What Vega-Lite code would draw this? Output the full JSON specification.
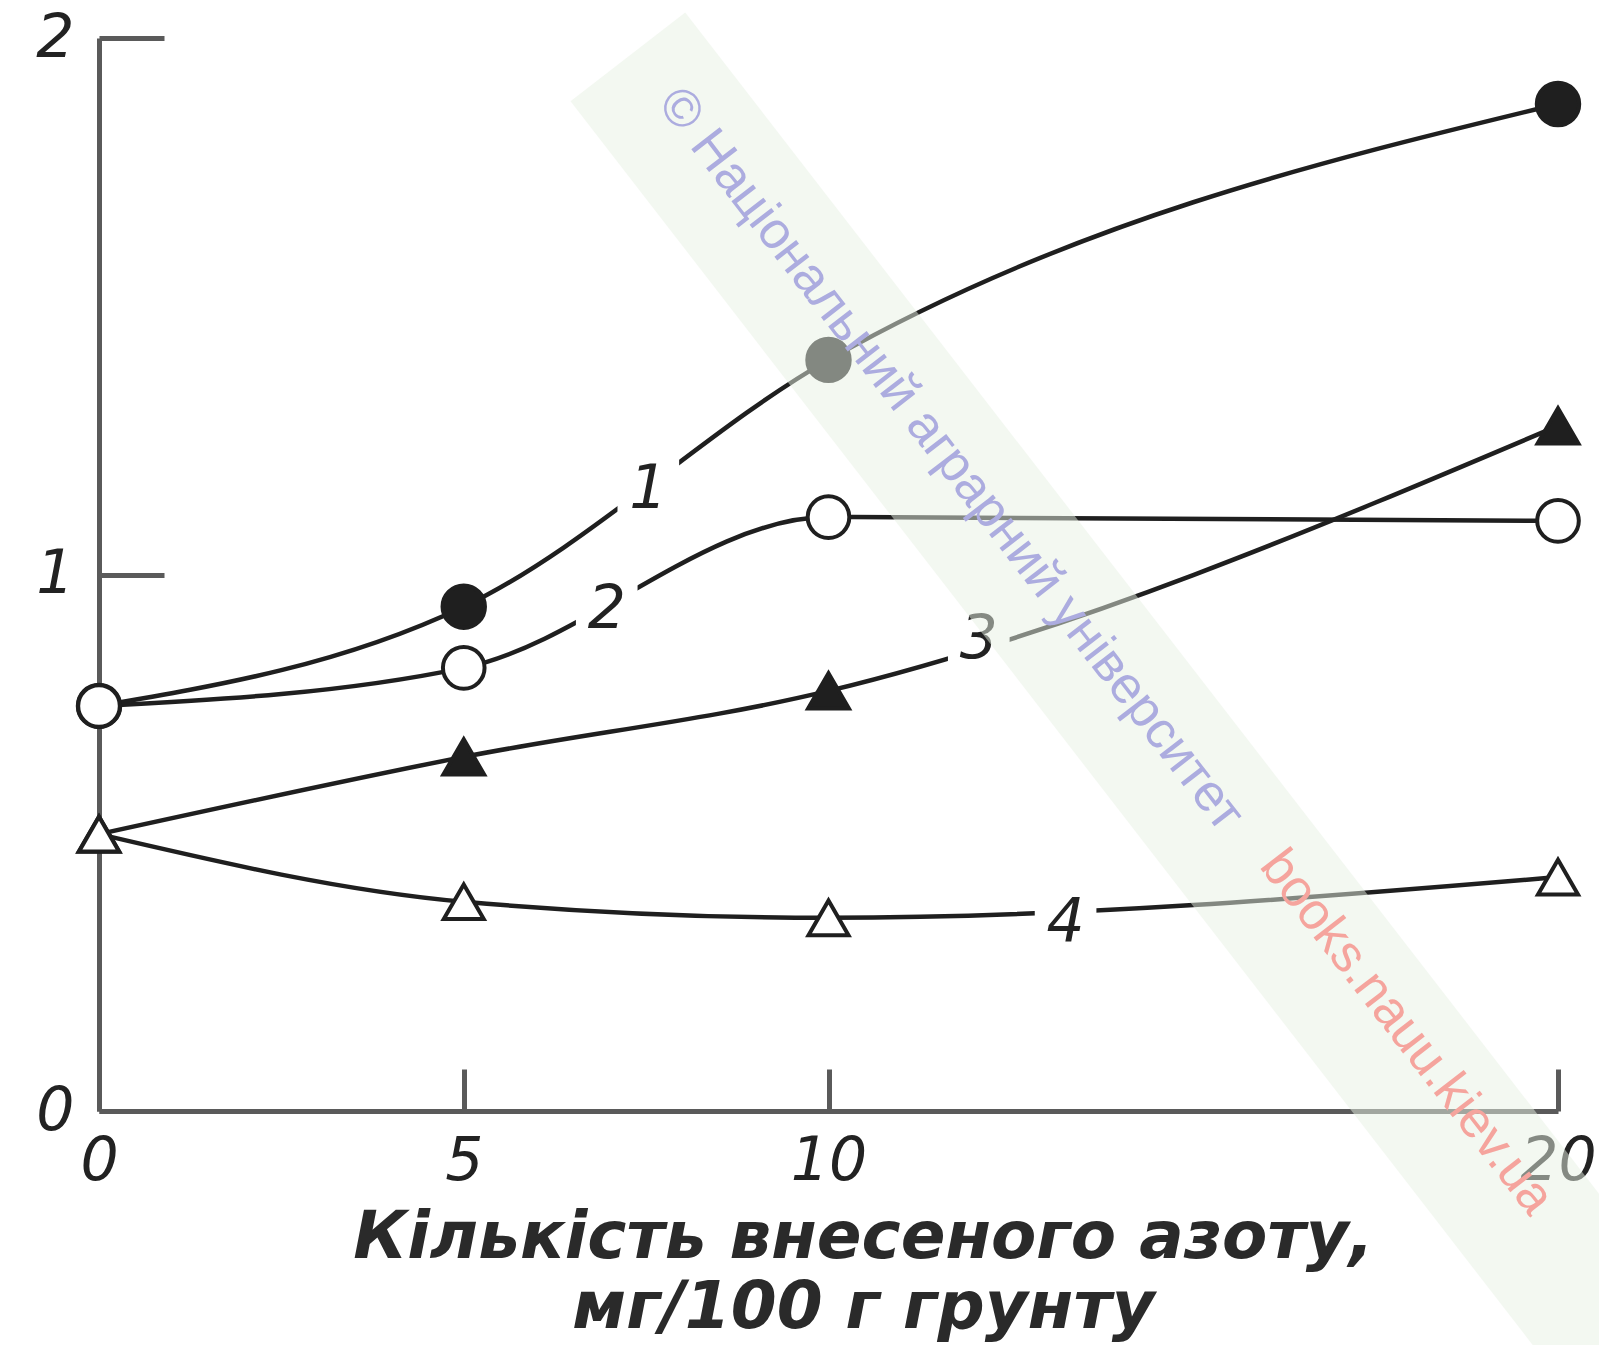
{
  "$schema": "https://vega.github.io/schema/vega-lite/v6.json",
  "width": 1459,
  "height": 1073,
  "autosize": {"type": "none"},
  "padding": {"left": 99, "top": 38, "right": 41, "bottom": 234},
  "background": "white",
  "config": {"view": {"stroke": null}, "axis": {"grid": false}},
  "datasets": {
    "curves": [
      {"series": "1", "x": 0, "y": 0.755},
      {"series": "1", "x": 5, "y": 0.94},
      {"series": "1", "x": 10, "y": 1.40},
      {"series": "1", "x": 20, "y": 1.877},
      {"series": "2", "x": 0, "y": 0.755},
      {"series": "2", "x": 5, "y": 0.826},
      {"series": "2", "x": 10, "y": 1.107},
      {"series": "2", "x": 20, "y": 1.10},
      {"series": "3", "x": 0, "y": 0.516},
      {"series": "3", "x": 5, "y": 0.66},
      {"series": "3", "x": 10, "y": 0.783},
      {"series": "3", "x": 20, "y": 1.277},
      {"series": "4", "x": 0, "y": 0.516},
      {"series": "4", "x": 5, "y": 0.39},
      {"series": "4", "x": 10, "y": 0.36},
      {"series": "4", "x": 20, "y": 0.436}
    ],
    "labels": [
      {"label": "1", "x": 7.53, "y": 1.158},
      {"label": "2", "x": 6.96, "y": 0.934},
      {"label": "3", "x": 12.06, "y": 0.878},
      {"label": "4", "x": 13.25, "y": 0.35}
    ],
    "band": [
      {"x": 7.25, "y": 1.965},
      {"x": 21.5, "y": -0.54}
    ],
    "watermark": [
      {"kind": "copyright", "text": "© Національний аграрний університет", "x": 11.68, "y": 1.215},
      {"kind": "site", "text": "books.nauu.kiev.ua", "x": 17.93, "y": 0.147}
    ]
  },
  "encoding": {
    "x": {
      "field": "x",
      "type": "quantitative",
      "scale": {"domain": [0, 20], "nice": false, "zero": false},
      "axis": {
        "values": [0, 5, 10, 20],
        "labelExpr": "datum.value + ''",
        "domainColor": "#5a5a5a",
        "domainWidth": 5,
        "tickColor": "#5a5a5a",
        "tickWidth": 5,
        "tickSize": -42,
        "labelPadding": 63,
        "labelFont": "DejaVu Sans",
        "labelFontStyle": "italic",
        "labelFontSize": 60,
        "labelColor": "#222222",
        "labelFlush": false,
        "labelOverlap": false,
        "title": ["Кількість внесеного азоту,", "мг/100 г грунту"],
        "titleFont": "DejaVu Sans",
        "titleFontStyle": "italic",
        "titleFontWeight": "bold",
        "titleFontSize": 66,
        "titleColor": "#2a2a2a",
        "titleAlign": "center",
        "titleBaseline": "alphabetic",
        "titleX": 764,
        "titleY": 146,
        "titleLineHeight": 70
      }
    },
    "y": {
      "field": "y",
      "type": "quantitative",
      "scale": {"domain": [0, 2], "nice": false, "zero": false},
      "axis": {
        "values": [0, 1, 2],
        "labelExpr": "datum.value + ''",
        "domainColor": "#5a5a5a",
        "domainWidth": 5,
        "tickColor": "#5a5a5a",
        "tickWidth": 5,
        "tickSize": -65,
        "labelPadding": 90,
        "labelFont": "DejaVu Sans",
        "labelFontStyle": "italic",
        "labelFontSize": 60,
        "labelColor": "#222222",
        "labelFlush": false,
        "labelOverlap": false,
        "labelAlign": "right",
        "labelBaseline": "middle",
        "title": null
      }
    }
  },
  "layer": [
    {
      "data": {"name": "curves"},
      "mark": {"type": "line", "interpolate": "monotone", "color": "#1f1f1f", "strokeWidth": 4.5},
      "encoding": {"detail": {"field": "series"}}
    },
    {
      "data": {"name": "labels"},
      "mark": {"type": "square", "size": 3800, "color": "white", "filled": true, "opacity": 1}
    },
    {
      "data": {"name": "labels"},
      "mark": {"type": "text", "font": "DejaVu Sans", "fontStyle": "italic", "fontSize": 60, "color": "#222222", "align": "center", "baseline": "middle"},
      "encoding": {"text": {"field": "label"}}
    },
    {
      "data": {"name": "curves"},
      "mark": {"type": "point", "filled": true, "stroke": "#1f1f1f", "strokeWidth": 4, "opacity": 1},
      "encoding": {
        "shape": {"field": "series", "scale": {"domain": ["1", "2", "3", "4"], "range": ["circle", "circle", "triangle-up", "triangle-up"]}, "legend": null},
        "fill": {"field": "series", "scale": {"domain": ["1", "2", "3", "4"], "range": ["#1f1f1f", "#ffffff", "#1f1f1f", "#ffffff"]}, "legend": null},
        "size": {"field": "series", "scale": {"domain": ["1", "2", "3", "4"], "range": [1800, 1600, 2100, 2100]}, "legend": null}
      }
    },
    {
      "data": {"name": "band"},
      "mark": {"type": "line", "color": "#e8f2e4", "strokeWidth": 145, "strokeCap": "butt", "opacity": 0.5}
    },
    {
      "data": {"name": "watermark"},
      "mark": {"type": "text", "font": "Liberation Sans", "fontSize": 52, "angle": 52.3, "align": "center", "baseline": "middle"},
      "encoding": {
        "text": {"field": "text"},
        "color": {"field": "kind", "scale": {"domain": ["copyright", "site"], "range": ["#acacdf", "#f5a49d"]}, "legend": null}
      }
    }
  ]
}
